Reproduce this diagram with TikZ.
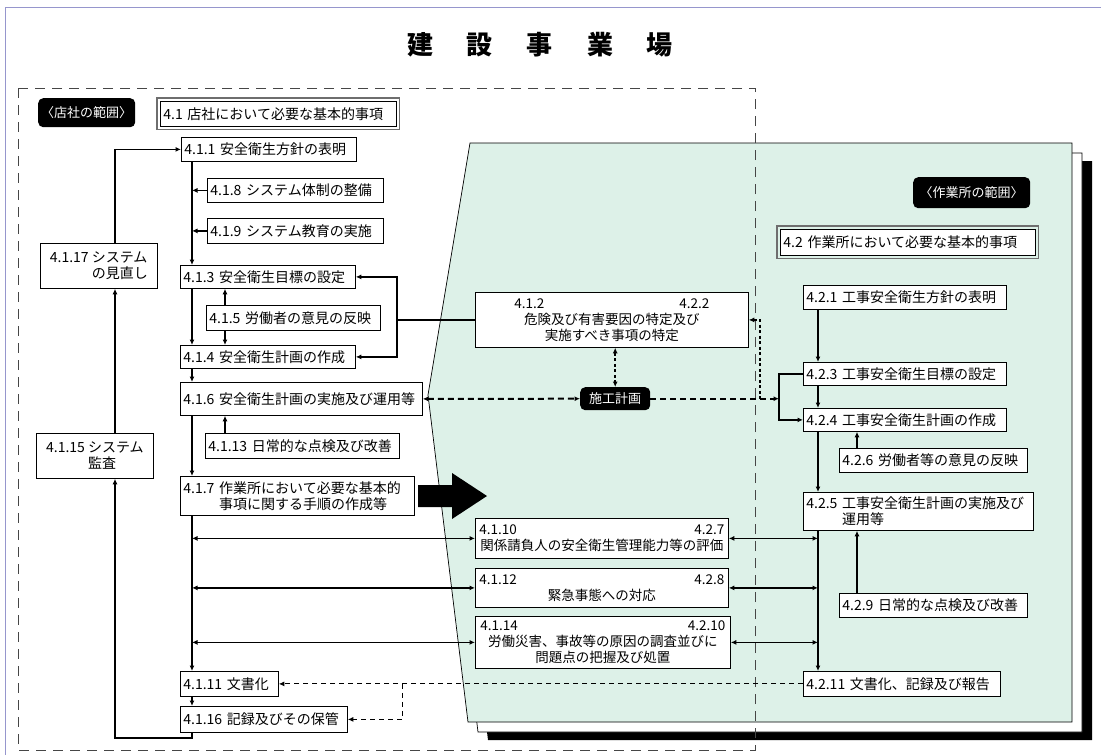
\documentclass[tikz,border=0pt]{standalone}
\usepackage{fontspec}
\setmainfont{Noto Sans CJK JP}
\usetikzlibrary{arrows.meta}
\definecolor{panel}{RGB}{221,241,232}
\definecolor{frameblue}{RGB}{150,150,205}
\definecolor{divgray}{RGB}{70,70,70}
\definecolor{outergray}{RGB}{110,110,110}
\tikzset{
 bx/.style={draw=black, line width=0.8pt, fill=white, inner xsep=3pt, inner ysep=1pt, anchor=north west, font=\fontsize{14}{16}\selectfont, align=left},
 mbx/.style={bx, align=center, font=\fontsize{13.5}{16}\selectfont},
 blabel/.style={fill=black, rounded corners=5pt, text=white, inner sep=2pt, anchor=north west, font=\fontsize{13}{15}\selectfont},
 tipx/.tip={Latex[length=5.5pt,width=5pt]},
 conn/.style={line width=1.7pt, -tipx},
 biconn/.style={line width=1.7pt, tipx-tipx},
 solidline/.style={line width=1.7pt},
 thickdash/.style={line width=2pt, dash pattern=on 6pt off 4pt},
 dotline/.style={line width=1.7pt, dash pattern=on 3pt off 2.5pt},
 thindash/.style={line width=1pt, dash pattern=on 5pt off 4pt},
 divider/.style={line width=1pt, divgray, dash pattern=on 10pt off 7pt},
 outerframe/.style={draw=outergray, line width=1.2pt},
}
\begin{document}
\begin{tikzpicture}[x=1pt,y=-1pt]
\useasboundingbox (0,0) rectangle (1101,755);
\fill[white] (0,0) rectangle (1101,755);
\draw[frameblue, line width=1pt] (5,755) -- (5,7) -- (1101,7);

% title
\node[font=\fontsize{26}{28}\selectfont\bfseries] (title) at (540,45) {建\hspace{34pt}設\hspace{34pt}事\hspace{34pt}業\hspace{34pt}場};

% stacked sheets
\fill[black] (490,161) -- (1092,161) -- (1092,740) -- (488,740) -- (448,413) -- cycle;
\draw[fill=white, line width=0.7pt] (480,153) -- (1082,153) -- (1082,732) -- (478,732) -- (438,405) -- cycle;
\draw[fill=panel, line width=0.7pt] (470,143) -- (1072,143) -- (1072,722) -- (468,722) -- (428,395) -- cycle;

% dashed region
\draw[divider] (18,88) rectangle (755,750);

% coordinates
\coordinate (mx) at (192,0);
\coordinate (lx) at (115,0);
\coordinate (ax) at (225,0);
\coordinate (brx) at (397,0);
\coordinate (by) at (0,738);
\coordinate (dx) at (402,0);
\coordinate (rmx) at (818,0);
\coordinate (rax) at (857,0);
\coordinate (rbx) at (779,0);
\coordinate (dvx) at (760,0);

% left column
\node[blabel, minimum width=97pt, minimum height=29pt] (hon) at (38,98) {〈店社の範囲〉};
\node[bx, minimum width=236pt, text width=230pt, minimum height=25pt] (b41) at (160,101) {4.1 店社において必要な基本的事項};
\draw[outerframe] ([shift={(-3pt,3pt)}]b41.north west) rectangle ([shift={(3pt,-3pt)}]b41.south east);
\node[bx, minimum width=175pt, text width=169pt, minimum height=24pt] (b411) at (181,137) {4.1.1 安全衛生方針の表明};
\node[bx, minimum width=176pt, text width=170pt, minimum height=24pt] (b418) at (207,178) {4.1.8 システム体制の整備};
\node[bx, minimum width=176pt, text width=170pt, minimum height=25pt] (b419) at (207,218) {4.1.9 システム教育の実施};
\node[bx, minimum width=175pt, text width=169pt, minimum height=23pt] (b413) at (180,265) {4.1.3 安全衛生目標の設定};
\node[bx, minimum width=174pt, text width=168pt, minimum height=25pt] (b415) at (206,305) {4.1.5 労働者の意見の反映};
\node[bx, minimum width=175pt, text width=169pt, minimum height=23pt] (b414) at (180,345) {4.1.4 安全衛生計画の作成};
\node[bx, minimum width=242pt, text width=236pt, minimum height=33pt] (b416) at (180,382) {4.1.6 安全衛生計画の実施及び運用等};
\node[bx, minimum width=194pt, text width=188pt, minimum height=25pt] (b4113) at (205,433) {4.1.13 日常的な点検及び改善};
\node[bx, minimum width=234pt, text width=228pt, minimum height=39pt] (b417) at (180,476) {4.1.7 作業所において必要な基本的\\\hphantom{4.1.7 }事項に関する手順の作成等};
\node[bx, minimum width=98pt, text width=92pt, minimum height=25pt] (b4111) at (180,671) {4.1.11 文書化};
\node[bx, minimum width=167pt, text width=161pt, minimum height=26pt] (b4116) at (180,706) {4.1.16 記録及びその保管};
\node[bx, minimum width=117pt, minimum height=45pt] (b4117) at (40,243) {4.1.17 システム\\\hphantom{4.1.17 }の見直し};
\node[bx, minimum width=117pt, minimum height=45pt] (b4115) at (36,433) {4.1.15 システム\\\hphantom{4.1.15 }監査};

% middle
\node[mbx, minimum width=273pt, minimum height=55pt] (b412) at (475,292) {\makebox[195pt]{4.1.2\hfill 4.2.2}\\危険及び有害要因の特定及び\\実施すべき事項の特定};
\node[blabel, minimum width=70pt, minimum height=23pt] (sekou) at (580,387) {施工計画};
\node[mbx, minimum width=253pt, minimum height=40pt] (b4110) at (475,518) {\makebox[245pt]{4.1.10\hfill 4.2.7}\\関係請負人の安全衛生管理能力等の評価};
\node[mbx, minimum width=253pt, minimum height=39pt] (b4112) at (475,568) {\makebox[245pt]{4.1.12\hfill 4.2.8}\\緊急事態への対応};
\node[mbx, minimum width=255pt, minimum height=52pt] (b4114) at (475,616) {\makebox[245pt]{4.1.14\hfill 4.2.10}\\労働災害、事故等の原因の調査並びに\\問題点の把握及び処置};

% right column
\node[blabel, minimum width=117pt, minimum height=31pt] (saku) at (913,177) {〈作業所の範囲〉};
\node[bx, minimum width=255pt, text width=249pt, minimum height=26pt] (b42) at (780,229) {4.2 作業所において必要な基本的事項};
\draw[outerframe] ([shift={(-3pt,3pt)}]b42.north west) rectangle ([shift={(3pt,-3pt)}]b42.south east);
\node[bx, minimum width=203pt, text width=197pt, minimum height=24pt] (b421) at (803,285) {4.2.1 工事安全衛生方針の表明};
\node[bx, minimum width=203pt, text width=197pt, minimum height=23pt] (b423) at (803,362) {4.2.3 工事安全衛生目標の設定};
\node[bx, minimum width=203pt, text width=197pt, minimum height=23pt] (b424) at (803,408) {4.2.4 工事安全衛生計画の作成};
\node[bx, minimum width=188pt, text width=182pt, minimum height=24pt] (b426) at (839,448) {4.2.6 労働者等の意見の反映};
\node[bx, minimum width=230pt, text width=224pt, minimum height=38pt] (b425) at (803,492) {4.2.5 工事安全衛生計画の実施及び\\\hphantom{4.2.5 }運用等};
\node[bx, minimum width=188pt, text width=182pt, minimum height=24pt] (b429) at (839,593) {4.2.9 日常的な点検及び改善};
\node[bx, minimum width=197pt, text width=191pt, minimum height=25pt] (b4211) at (803,671) {4.2.11 文書化、記録及び報告};

% big arrow
\fill[black] (418,485) -- (452,485) -- (452,473) -- (487,496) -- (452,519) -- (452,507) -- (418,507) -- cycle;

% left connectors
\draw[conn] (b4117.north -| lx) |- (b411.west);
\draw[conn] (b4115.north -| lx) -- (b4117.south -| lx);
\draw[conn] (b4116.south -| mx) -- (by -| mx) -- (by -| lx) -- (b4115.south -| lx);
\draw[conn] (b411.south -| mx) -- (b413.north -| mx);
\draw[conn] (b418.west) -- (b418.west -| mx);
\draw[conn] (b419.west) -- (b419.west -| mx);
\draw[conn] (b415.north -| ax) -- (b413.south -| ax);
\draw[conn] (b415.south -| ax) -- (b414.north -| ax);
\draw[conn] (b413.south -| mx) -- (b414.north -| mx);
\draw[conn] (b414.south -| mx) -- (b416.north -| mx);
\draw[conn] (b416.south -| mx) -- (b417.north -| mx);
\draw[conn] (b4113.north -| ax) -- (b416.south -| ax);
\draw[conn] (b417.south -| mx) -- (b4111.north -| mx);
\draw[conn] (b4111.south -| mx) -- (b4116.north -| mx);
\draw[biconn] (b413.east) -- (b413.east -| brx) -- (b414.east -| brx) -- (b414.east);
\draw[solidline] (b412.west) -- (b412.west -| brx);

% cross connectors
\foreach \n in {b4110,b4112,b4114}{
  \draw[biconn] (\n.west -| mx) -- (\n.west);
  \draw[biconn] (\n.east) -- (\n.east -| rmx);
}

% right connectors
\draw[conn] (b421.south -| rmx) -- (b423.north -| rmx);
\draw[conn] (b423.south -| rmx) -- (b424.north -| rmx);
\draw[conn] (b424.south -| rmx) -- (b425.north -| rmx);
\draw[conn] (b426.north -| rax) -- (b424.south -| rax);
\draw[conn] (b425.south -| rmx) -- (b4211.north -| rmx);
\draw[conn] (b429.north -| rax) -- (b425.south -| rax);
\draw[conn] (b423.west) -- (b423.west -| rbx) -- (b424.west -| rbx) -- (b424.west);

% dashed connectors
\draw[thickdash, tipx-tipx] (b416.east) -- (sekou.west);
\draw[thickdash, -tipx] (sekou.east) -- (sekou.east -| rbx);
\draw[dotline, tipx-tipx] (b412.south -| sekou.north) -- (sekou.north);
\draw[dotline, tipx-] (b412.east) -- (b412.east -| dvx) -- (sekou.east -| dvx);
\draw[thindash, -tipx] (b4211.west) -- (b4111.east);
\draw[thindash, -tipx] (b4111.east -| dx) -- (b4116.east -| dx) -- (b4116.east);
\end{tikzpicture}
\end{document}
